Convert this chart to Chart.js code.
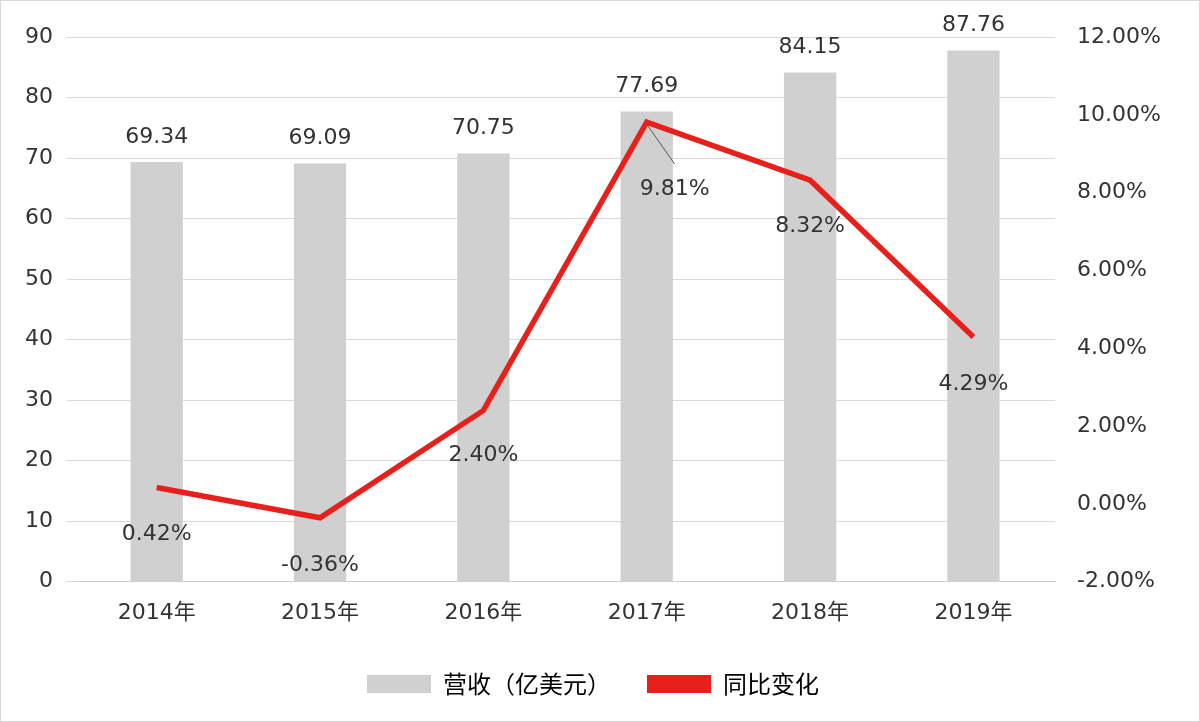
<!DOCTYPE html>
<html><head><meta charset="utf-8">
<script src="https://cdn.jsdelivr.net/npm/chart.js@4"></script>
<style>
html,body{margin:0;padding:0;background:#fff;}
#wrap{position:absolute;left:0;top:0;width:1198px;height:720px;border:1px solid #d9d9d9;}
</style></head><body>
<div id="wrap"><canvas id="c" width="1198" height="720"></canvas></div>
<script>
const categories = ['2014年','2015年','2016年','2017年','2018年','2019年'];
const revenue = [69.34, 69.09, 70.75, 77.69, 84.15, 87.76];
const growth = [0.42, -0.36, 2.40, 9.81, 8.32, 4.29];
const leftTicks = [0,10,20,30,40,50,60,70,80,90];

const labelPlugin = {
  id:'labels',
  afterDatasetsDraw(chart){
    const ctx = chart.ctx;
    ctx.save();
    ctx.font = '22px "DejaVu Sans", sans-serif';
    ctx.fillStyle = '#333';
    ctx.textAlign = 'center';
    ctx.textBaseline = 'bottom';
    const bm = chart.getDatasetMeta(0);
    bm.data.forEach((b,i)=>{ ctx.fillText(revenue[i].toFixed(2), b.x, b.y - 14); });
    const lm = chart.getDatasetMeta(1);
    ctx.textBaseline = 'middle';
    lm.data.forEach((p,i)=>{
      let dy = 47;
      if (i===2) dy = 45;
      if (i===4) dy = 46;
      if (i===5) dy = 47;
      if (i===3) {
        ctx.strokeStyle = '#555'; ctx.lineWidth = 1;
        ctx.beginPath(); ctx.moveTo(p.x, p.y+2); ctx.lineTo(p.x+28, p.y+42); ctx.stroke();
        ctx.fillText(growth[i].toFixed(2)+'%', p.x+28, p.y+67);
        return;
      }
      ctx.fillText(growth[i].toFixed(2)+'%', p.x, p.y+dy);
    });
    ctx.restore();
  }
};

new Chart(document.getElementById('c'), {
  data:{
    labels: categories,
    datasets:[
      {type:'bar', label:'营收（亿美元）', data: revenue, backgroundColor:'#d0d0d0', yAxisID:'y', barPercentage:0.32, categoryPercentage:1, order:2},
      {type:'line', label:'同比变化', data: growth, borderColor:'#e8201c', backgroundColor:'#e8201c', borderWidth:5.5, pointRadius:0, yAxisID:'y1', tension:0, order:1}
    ]
  },
  options:{
    responsive:false, animation:false,
    layout:{padding:{left:10,right:24,top:36,bottom:15}},
    plugins:{
      tooltip:{enabled:false},
      legend:{position:'bottom', labels:{font:{size:24, family:'"Noto Sans CJK SC", sans-serif'}, color:'#333', boxWidth:64, boxHeight:18, padding:36,
        generateLabels(chart){
          return [
            {text:'营收（亿美元）', fillStyle:'#d0d0d0', strokeStyle:'#d0d0d0', lineWidth:0, datasetIndex:0},
            {text:'同比变化', fillStyle:'#e8201c', strokeStyle:'#e8201c', lineWidth:0, datasetIndex:1}
          ];
        }}}
    },
    scales:{
      x:{grid:{display:false}, border:{color:'#d0d0d0'}, ticks:{color:'#333', font:{size:22, family:'"DejaVu Sans", "Noto Sans CJK SC", sans-serif'}, padding:10}},
      y:{position:'left', min:0, max:90, afterBuildTicks(a){a.ticks = leftTicks.map(v=>({value:v}));}, grid:{color:'#d9d9d9'}, border:{display:false}, ticks:{color:'#333', font:{size:22, family:'"DejaVu Sans", sans-serif'}, padding:14}},
      y1:{position:'right', min:-2, max:12, ticks:{stepSize:2, color:'#333', font:{size:22, family:'"DejaVu Sans", sans-serif'}, padding:14, callback:v=>v.toFixed(2)+'%'}, grid:{display:false}, border:{display:false}}
    }
  },
  plugins:[labelPlugin]
});
</script>
</body></html>
